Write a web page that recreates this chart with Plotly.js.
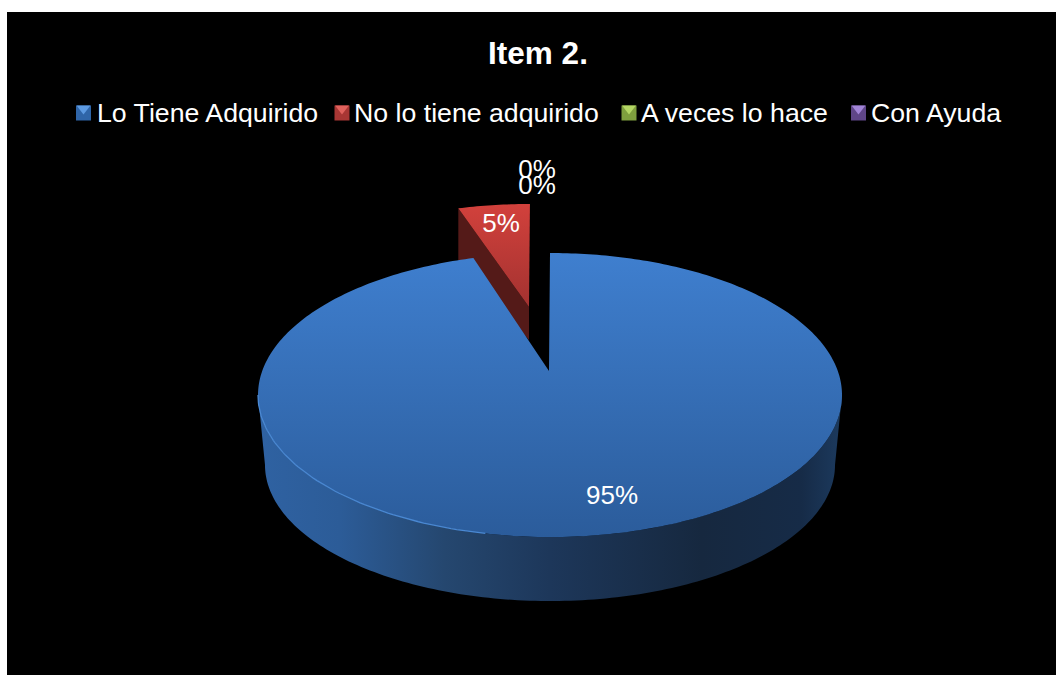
<!DOCTYPE html>
<html><head><meta charset="utf-8">
<script src="https://cdn.plot.ly/plotly-3.0.1.min.js"></script>
<style>html,body{margin:0;padding:0;background:#fff;overflow:hidden}</style>
</head><body><div id="chart" style="width:1056px;height:675px"></div>
<script>
// Data
const categories = ["Lo Tiene Adquirido","No lo tiene adquirido","A veces lo hace","Con Ayuda"];
const values = [95,5,0,0];
const swatchColors = ["#2f65a8","#a83634","#7f9f3e","#5f4688"];
const swatchLights = ["#5c9ae2","#e0615c","#b4d664","#a184d6"];
const titleText = "Item 2.";
// Label anchors (px) for each category
const labelX = [612,501,537,537];
const labelY = [497,225,187,171];
// Legend row (px)
const legendY = 113;
const legendTextY = 115;
const swatchX = [83.5,342,629,858.5];
const legendTextX = [97,354,641,871];

// Projection parameters of the tilted disc
const disc = {cx:550, cy:395, rx:292, ry:142, lean:0.169};
const base = {cx:550, cy:465, rx:285, ry:136};
const apex = {x:549, y:371};
const pulled = {x:529, y:307, sx:0.935, sy:0.873, rimDepth:52, apexDepth:33};
const FONT = 'Liberation Sans, Arial, sans-serif';

function proj(frac, e){ // frac: fraction of the turn clockwise from 12 o'clock
  const t = frac*2*Math.PI, u=Math.sin(t), v=Math.cos(t), b=disc.lean;
  const d = 1+b*v;
  return [e.cx + e.rx*u*Math.sqrt(1-b*b)/d, e.cy - e.ry*(v+b)/d];
}
function arc(f0,f1,e){const n=Math.max(2,Math.ceil(Math.abs(f1-f0)*360));const o=[];
  for(let i=0;i<=n;i++)o.push(proj(f0+(f1-f0)*i/n,e));return o;}
const toPull = p=>[pulled.x+(p[0]-apex.x)*pulled.sx, pulled.y+(p[1]-apex.y)*pulled.sy];

const total = values.reduce((a,b)=>a+b,0);
const fr0 = 0, fr1 = values[0]/total;   // main slice
const frEnd = (values[0]+values[1])/total;

function poly(pts,extra){return Object.assign({type:'scatter',mode:'none',fill:'toself',
  x:pts.map(p=>p[0]),y:pts.map(p=>p[1]),showlegend:false,hoverinfo:'skip'},extra);}
function grad(type,stops,start,stop){return {type,colorscale:stops,start,stop};}

const traces=[];
// side wall of the main slice (front part of the disc, between its widest points)
const widest = Math.acos(-disc.lean)/(2*Math.PI);
const rightF = widest, leftF = 1-widest;
const topFront = arc(rightF,leftF,disc);
const baseFront = arc(leftF,rightF,base);
traces.push(poly(topFront.concat(baseFront),{fillgradient:grad('horizontal',[
  [0,'#2f62a2'],[0.14,'#2c5c98'],[0.32,'#25476f'],[0.5,'#1d375a'],[0.76,'#16283f'],[0.93,'#162b47'],[1,'#1c3a5e']
],258,842)}));
// pulled slice: cut face, then top
const redRim = arc(fr1,frEnd,disc).map(toPull);
const rimL = redRim[0];
const pA = [pulled.x,pulled.y];
traces.push(poly([rimL,pA,[pA[0],pA[1]+pulled.apexDepth],[rimL[0],rimL[1]+pulled.rimDepth]],
  {fillcolor:'#541a18'}));
traces.push(poly(redRim.concat([pA]),{fillgradient:grad('vertical',[[0,'#d2413c'],[1,'#a33230']],204,307)}));
// main slice top
traces.push(poly([[apex.x,apex.y]].concat(arc(fr0,fr1,disc)),{fillgradient:grad('vertical',[[0,'#3f7fcf'],[1,'#2b5c9b']],253,537)}));
// highlight on the front-left rim
const rim = arc(0.53,leftF,disc);
traces.push({type:'scatter',mode:'lines',x:rim.map(p=>p[0]),y:rim.map(p=>p[1]),
  line:{color:'#4a88d2',width:1.3},showlegend:false,hoverinfo:'skip'});
// percent labels
traces.push({type:'scatter',mode:'text',x:labelX,y:labelY,
  text:values.map(v=>Math.round(v/total*100)+'%'),textposition:'middle center',
  textfont:{family:FONT,size:26,color:'#fff'},showlegend:false,hoverinfo:'skip'});
// legend row
traces.push({type:'scatter',mode:'markers',x:swatchX,y:swatchX.map(()=>legendY),
  marker:{symbol:'square',size:15,color:swatchColors,line:{width:0}},showlegend:false,hoverinfo:'skip'});
traces.push({type:'scatter',mode:'markers',x:swatchX,y:swatchX.map(()=>legendY-4.5),
  marker:{symbol:'triangle-down',size:12,color:swatchLights,line:{width:0}},showlegend:false,hoverinfo:'skip'});
traces.push({type:'scatter',mode:'text',x:legendTextX,y:legendTextX.map(()=>legendTextY),text:categories,
  textposition:'middle right',textfont:{family:FONT,size:26.7,color:'#fff'},showlegend:false,hoverinfo:'skip'});

const layout={
  width:1056,height:675,margin:{l:0,r:0,t:0,b:0,autoexpand:false},
  paper_bgcolor:'#fff',plot_bgcolor:'rgba(0,0,0,0)',showlegend:false,
  xaxis:{range:[0,1056],visible:false,fixedrange:true},
  yaxis:{range:[675,0],visible:false,fixedrange:true},
  shapes:[{type:'rect',layer:'below',xref:'x',yref:'y',x0:7,x1:1056,y0:12,y1:675,fillcolor:'#000',line:{width:0}}],
  title:{text:'<b>'+titleText+'</b>',x:538/1056,xanchor:'center',y:1-53/675,yanchor:'middle',
    font:{family:FONT,size:31.5,color:'#fff'}}
};
Plotly.newPlot('chart',traces,layout,{displayModeBar:false,staticPlot:true});
</script></body></html>
